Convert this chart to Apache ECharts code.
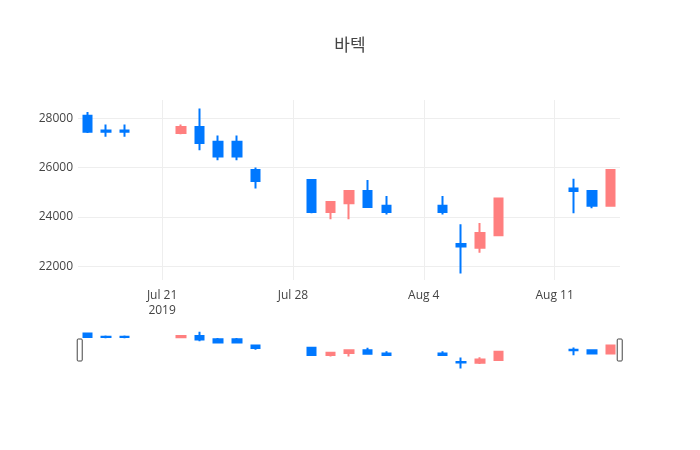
<!DOCTYPE html>
<html>
<head>
<meta charset="utf-8">
<script src="https://cdn.jsdelivr.net/npm/echarts@6/dist/echarts.min.js"></script>
<style>
  html, body { margin: 0; padding: 0; background: #fff; }
  #main { width: 700px; height: 450px; }
</style>
</head>
<body>
<div id="main"></div>
<script>
// all calendar days shown on the x axis (weekends / holidays stay empty)
const days = [
  '2019-07-17', '2019-07-18', '2019-07-19', '2019-07-20', '2019-07-21', '2019-07-22', '2019-07-23',
  '2019-07-24', '2019-07-25', '2019-07-26', '2019-07-27', '2019-07-28', '2019-07-29', '2019-07-30',
  '2019-07-31', '2019-08-01', '2019-08-02', '2019-08-03', '2019-08-04', '2019-08-05', '2019-08-06',
  '2019-08-07', '2019-08-08', '2019-08-09', '2019-08-10', '2019-08-11', '2019-08-12', '2019-08-13',
  '2019-08-14'
]
// trading days
const dates = [
  '2019-07-17', '2019-07-18', '2019-07-19', '2019-07-22', '2019-07-23', '2019-07-24', '2019-07-25',
  '2019-07-26', '2019-07-29', '2019-07-30', '2019-07-31', '2019-08-01', '2019-08-02', '2019-08-05',
  '2019-08-06', '2019-08-07', '2019-08-08', '2019-08-12', '2019-08-13', '2019-08-14'
]
const openPrice  = [28100, 27500, 27500, 27400, 27650, 27050, 27050, 25900, 25500, 24200, 24550, 25050, 24450, 24450, 22900, 22750, 23250, 25150, 25050, 24450]
const closePrice = [27450, 27450, 27450, 27650, 27000, 26450, 26450, 25450, 24200, 24600, 25050, 24400, 24200, 24200, 22800, 23350, 24750, 25050, 24450, 25900]
const lowPrice   = [27400, 27250, 27250, 27350, 26700, 26300, 26300, 25150, 24150, 23900, 23900, 24400, 24100, 24100, 21700, 22550, 23250, 24150, 24350, 24450]
const highPrice  = [28250, 27750, 27750, 27750, 28400, 27300, 27300, 26000, 25500, 24600, 25050, 25500, 24850, 24850, 23700, 23750, 24750, 25550, 25050, 25900]
const tickDays = ['2019-07-21', '2019-07-28', '2019-08-04', '2019-08-11']
const tickNames = ['Jul 21\n2019', 'Jul 28', 'Aug 4', 'Aug 11']

const yMin = 21440
const yMax = 28740
const upColor = '#FF7F7F'
const downColor = '#0078FF'

// candle rows in [open, close, low, high] keyed by calendar day
const candles = days.map(function (d) {
  const i = dates.indexOf(d)
  if (i < 0) return '-'
  return [openPrice[i], closePrice[i], lowPrice[i], highPrice[i]]
})

const isTick = function (idx) {
  return tickDays.indexOf(days[idx]) >= 0
}

const candleStyle = {
  color: upColor,
  color0: downColor,
  borderColor: upColor,
  borderColor0: downColor,
  borderWidth: 2
}

const chart = echarts.init(document.getElementById('main'))
const option = {
  animation: false,
  backgroundColor: '#fff',
  textStyle: { fontFamily: '"Open Sans", "Noto Sans CJK KR", sans-serif' },
  title: {
    text: '바텍',
    left: 'center',
    top: 31,
    textStyle: {
      fontFamily: '"Noto Sans CJK KR", "Open Sans", sans-serif',
      fontSize: 17,
      fontWeight: 'normal',
      color: '#444'
    }
  },
  grid: [
    { left: 78, right: 80, top: 100, height: 180 },
    { left: 78, right: 80, top: 330, height: 40 }
  ],
  xAxis: [
    {
      type: 'category',
      gridIndex: 0,
      data: days,
      boundaryGap: true,
      axisLine: { show: false },
      axisTick: { show: false },
      axisLabel: {
        interval: isTick,
        margin: 8,
        color: '#444',
        fontSize: 12,
        lineHeight: 15,
        formatter: function (v) {
          const k = tickDays.indexOf(v)
          return k >= 0 ? tickNames[k] : ''
        }
      },
      splitLine: {
        show: true,
        interval: isTick,
        alignWithLabel: true,
        lineStyle: { color: '#eee', width: 1 }
      }
    },
    {
      type: 'category',
      gridIndex: 1,
      data: days,
      boundaryGap: true,
      show: false
    }
  ],
  yAxis: [
    {
      type: 'value',
      gridIndex: 0,
      min: yMin,
      max: yMax,
      splitNumber: 4,
      axisLine: { show: false },
      axisTick: { show: false },
      axisLabel: {
        color: '#444',
        fontSize: 12,
        margin: 5,
        showMinLabel: false,
        showMaxLabel: false,
        formatter: function (v) { return String(v) }
      },
      splitLine: {
        show: true,
        showMinLine: false,
        showMaxLine: false,
        lineStyle: { color: '#eee', width: 1 }
      }
    },
    {
      type: 'value',
      gridIndex: 1,
      min: yMin,
      max: yMax,
      show: false,
      splitLine: { show: false }
    }
  ],
  dataZoom: [
    {
      type: 'slider',
      xAxisIndex: [0, 1],
      start: 0,
      end: 100,
      filterMode: 'none',
      left: 78,
      right: 80,
      top: 330,
      height: 40,
      backgroundColor: 'rgba(0,0,0,0)',
      fillerColor: 'rgba(0,0,0,0)',
      borderColor: 'rgba(0,0,0,0)',
      showDataShadow: false,
      showDetail: false,
      brushSelect: false,
      moveHandleSize: 0,
      handleIcon: 'path://M1,0 L4,0 Q5,0 5,1 L5,21 Q5,22 4,22 L1,22 Q0,22 0,21 L0,1 Q0,0 1,0 Z',
      handleSize: '55%',
      handleStyle: { color: '#fff', borderColor: '#444', borderWidth: 1 },
      emphasis: { handleStyle: { color: '#fff', borderColor: '#444' } }
    }
  ],
  series: [
    {
      name: '바텍',
      type: 'candlestick',
      xAxisIndex: 0,
      yAxisIndex: 0,
      barWidth: 9,
      itemStyle: candleStyle,
      data: candles
    },
    {
      name: 'rangeslider',
      type: 'candlestick',
      xAxisIndex: 1,
      yAxisIndex: 1,
      barWidth: 9,
      silent: true,
      itemStyle: candleStyle,
      data: candles
    }
  ]
}
chart.setOption(option)
</script>
</body>
</html>
